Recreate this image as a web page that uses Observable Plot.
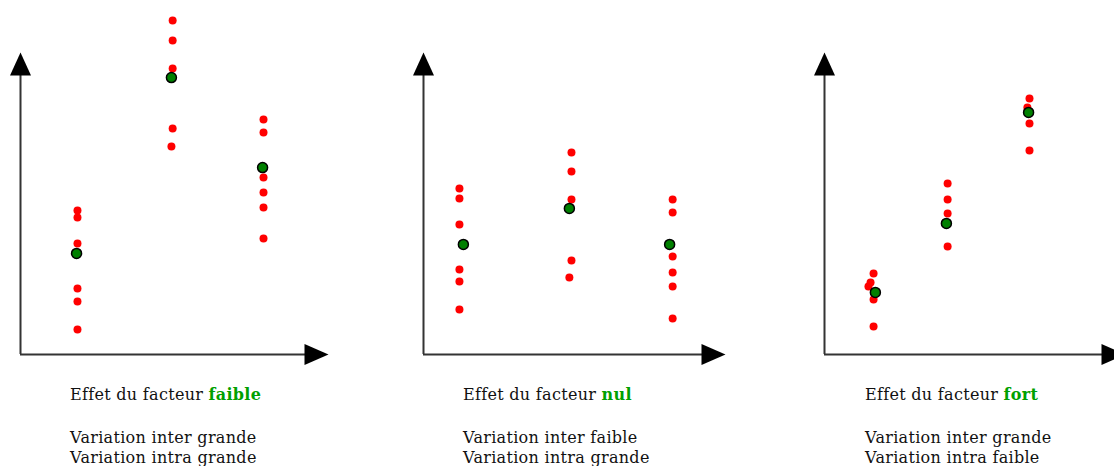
<!DOCTYPE html>
<html><head><meta charset="utf-8">
<script src="https://cdn.jsdelivr.net/npm/d3@7"></script>
<script src="https://cdn.jsdelivr.net/npm/@observablehq/plot@0.6"></script>
<style>
html,body{margin:0;padding:0;background:#fff;overflow:hidden;width:1114px;height:466px}
#wrap{position:relative;width:1114px;height:466px;overflow:hidden}
.panel{position:absolute;top:0}
.panel svg{max-width:none !important}
.cap{position:absolute;font-family:"DejaVu Serif",serif;font-size:16px;letter-spacing:0.3px;line-height:20px;color:#111;white-space:nowrap}
.cap b{color:#00a000}
</style></head><body><div id="wrap"></div>
<script>
// Panel labels
const effectWords = ["faible", "nul", "fort"];
const interWords = ["grande", "faible", "grande"];
const intraWords = ["grande", "grande", "faible"];

// Panel 1: effet faible
const redX_faible = [18.5,18.5,18.5,18.5,18.5,18.5, 49.4,49.4,49.4,49.4,49.0, 78.9,78.9,78.9,78.9,78.9,78.9];
const redY_faible = [48,45.7,37,22,17.7,8.3, 111.3,104.7,95.3,75.3,69.3, 78.3,74,59,54,49,38.7];
const meanX_faible = [18.2, 49.0, 78.6];
const meanY_faible = [33.7, 92.3, 62.3];

// Panel 2: effet nul
const redX_nul = [11.9,11.9,11.9,11.9,11.9,11.9, 49.0,49.0,49.0,49.0,48.3, 82.5,82.5,82.5,82.5,82.5,82.5];
const redY_nul = [55.3,52,43.3,28.3,24.3,15, 67.3,61,51.7,31.3,25.7, 51.7,47.3,32.7,27.3,22.7,12];
const meanX_nul = [13.2, 48.3, 81.5];
const meanY_nul = [36.7, 48.7, 36.7];

// Panel 3: effet fort
const redX_fort = [16.3,15.3,14.6,16.3,16.3, 40.9,40.9,40.9,40.9, 68.1,67.4,68.1,68.1];
const redY_fort = [27,24,22.7,18.3,9.3, 57,51.7,47,36, 85.3,82.3,77,68];
const meanX_fort = [16.9, 40.5, 67.8];
const meanY_fort = [20.7, 43.7, 80.7];

// Axis extents (data units)
const xAxisEnd = 100;
const yAxisEnd = 100.7;

const panelData = [
  {reds: d3.zip(redX_faible, redY_faible), means: d3.zip(meanX_faible, meanY_faible)},
  {reds: d3.zip(redX_nul, redY_nul), means: d3.zip(meanX_nul, meanY_nul)},
  {reds: d3.zip(redX_fort, redY_fort), means: d3.zip(meanX_fort, meanY_fort)}
];

const layout = [
  {left: 0, width: 403, mr: 75, capLeft: 70},
  {left: 403, width: 401, mr: 79, capLeft: 463},
  {left: 804, width: 330, mr: 9, capLeft: 865}
];

const upArrow = {draw(ctx) { ctx.moveTo(0, 0); ctx.lineTo(10.5, 23); ctx.lineTo(-10.5, 23); ctx.closePath(); }};
const rightArrow = {draw(ctx) { ctx.moveTo(0, 0); ctx.lineTo(-24, 10.5); ctx.lineTo(-24, -10.5); ctx.closePath(); }};

const wrap = document.getElementById("wrap");

panelData.forEach((pd, i) => {
  const L = layout[i];
  const reds = pd.reds.map(([x, y]) => ({x, y}));
  const means = pd.means.map(([x, y]) => ({x, y}));
  const chart = Plot.plot({
    width: L.width,
    height: 376,
    marginLeft: 20,
    marginRight: L.mr,
    marginTop: 0,
    marginBottom: 22,
    x: {domain: [0, xAxisEnd], axis: null},
    y: {domain: [0, 118], axis: null},
    style: {background: "white", overflow: "visible", maxWidth: "none"},
    marks: [
      Plot.ruleY([{y: 0, x1: 0, x2: xAxisEnd - 2}], {y: "y", x1: "x1", x2: "x2", stroke: "#333", strokeWidth: 2}),
      Plot.ruleX([{x: 0, y1: 0, y2: yAxisEnd - 2}], {x: "x", y1: "y1", y2: "y2", stroke: "#333", strokeWidth: 2}),
      Plot.dot([{x: 0, y: yAxisEnd}], {x: "x", y: "y", symbol: upArrow, r: 10, fill: "black", stroke: "none"}),
      Plot.dot([{x: xAxisEnd, y: 0}], {x: "x", y: "y", symbol: rightArrow, r: 10, fill: "black", stroke: "none"}),
      Plot.dot(reds, {x: "x", y: "y", r: 4, fill: "#ff0000", stroke: "none"}),
      Plot.dot(means, {x: "x", y: "y", r: 5, fill: "#008000", stroke: "#000", strokeWidth: 1.5})
    ]
  });
  const div = document.createElement("div");
  div.className = "panel";
  div.style.left = L.left + "px";
  div.style.width = L.width + "px";
  div.appendChild(chart);
  wrap.appendChild(div);

  const c1 = document.createElement("div");
  c1.className = "cap";
  c1.style.left = L.capLeft + "px";
  c1.style.top = "385px";
  c1.innerHTML = "Effet du facteur <b>" + effectWords[i] + "</b>";
  wrap.appendChild(c1);

  const c2 = document.createElement("div");
  c2.className = "cap";
  c2.style.left = L.capLeft + "px";
  c2.style.top = "428px";
  c2.innerHTML = "Variation inter " + interWords[i] + "<br>Variation intra " + intraWords[i];
  wrap.appendChild(c2);
});
</script></body></html>
